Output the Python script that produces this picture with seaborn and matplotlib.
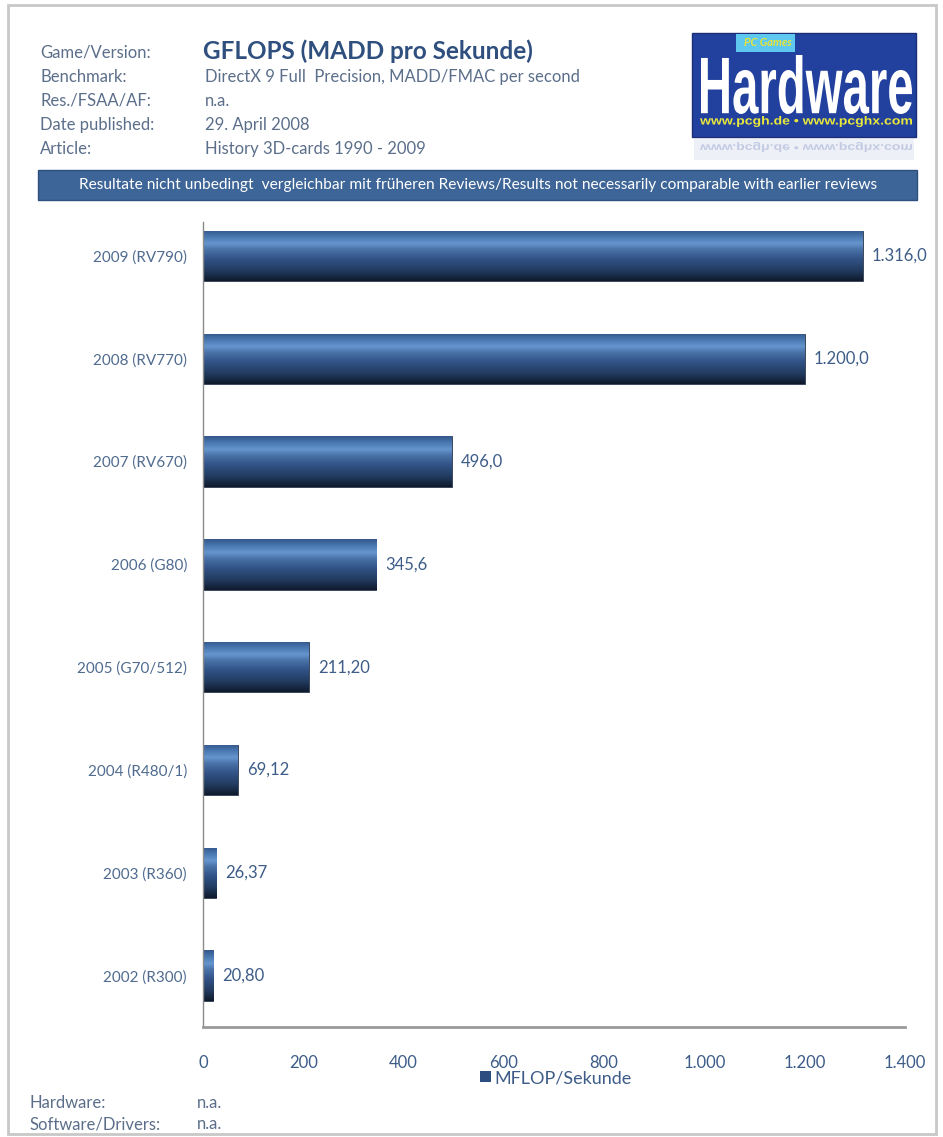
import numpy as np
import pandas as pd
import seaborn as sns
import matplotlib.pyplot as plt
from matplotlib.patches import Rectangle, Patch, PathPatch
from matplotlib.colors import LinearSegmentedColormap
from matplotlib.textpath import TextPath
from matplotlib.font_manager import FontProperties
from matplotlib.transforms import Affine2D

cards = ['2009 (RV790)', '2008 (RV770)', '2007 (RV670)', '2006 (G80)',
         '2005 (G70/512)', '2004 (R480/1)', '2003 (R360)', '2002 (R300)']
gflops = [1316.0, 1200.0, 496.0, 345.6, 211.20, 69.12, 26.37, 20.80]
value_labels = ['1.316,0', '1.200,0', '496,0', '345,6', '211,20', '69,12', '26,37', '20,80']
xticks = [0, 200, 400, 600, 800, 1000, 1200, 1400]
xtick_labels = ['0', '200', '400', '600', '800', '1.000', '1.200', '1.400']

info_keys = ['Game/Version:', 'Benchmark:', 'Res./FSAA/AF:', 'Date published:', 'Article:']
info_vals = ['GFLOPS (MADD pro Sekunde)', 'DirectX 9 Full  Precision, MADD/FMAC per second',
             'n.a.', '29. April 2008', 'History 3D-cards 1990 - 2009']
footer_keys = ['Hardware:', 'Software/Drivers:']
footer_vals = ['n.a.', 'n.a.']

df = pd.DataFrame({'card': cards, 'value': gflops})

sns.set_style('white')
plt.rcParams['font.family'] = ['Lato', 'DejaVu Sans']

W, H = 943, 1137
fig = plt.figure(figsize=(W / 100, H / 100), dpi=100)
TXT = '#5b6e8a'
BLUE_TXT = '#3d5c88'


def px(x, y):
    return x / W, 1 - y / H


def fit_text(s, x0, y0, x1, y1, color, weight='bold', flip=False, alpha=1.0):
    # draw text s squeezed into the pixel box (x0, y0)-(x1, y1), y measured from top
    tp = TextPath((0, 0), s, size=50, prop=FontProperties(family='Liberation Sans', weight=weight))
    bb = tp.get_extents()
    sy = (y1 - y0) / bb.height
    tr = Affine2D().translate(-bb.x0, -bb.y0).scale((x1 - x0) / bb.width, -sy if flip else sy)
    tr = tr.translate(x0, H - (y0 if flip else y1)).scale(1 / W, 1 / H) + fig.transFigure
    fig.add_artist(PathPatch(tp, transform=tr, facecolor=color, edgecolor='none', alpha=alpha))


# outer frame
fig.add_artist(Rectangle(px(8, 1134), (936 - 8) / W, (1134 - 5) / H, transform=fig.transFigure,
                         fill=False, edgecolor='#c8c8c8', lw=2))

ax = fig.add_axes([203 / W, 1 - 1027 / H, (905 - 203) / W, (1027 - 222) / H])
sns.barplot(data=df, x='value', y='card', orient='h', width=0.49, color='#34588a', ax=ax)

grad_cmap = LinearSegmentedColormap.from_list('bar', [
    (0.0, '#34578a'), (0.12, '#4775ad'), (0.26, '#6696cf'), (0.38, '#4a73a8'),
    (0.55, '#33558a'), (0.8, '#213a5e'), (1.0, '#0f1a2b')])
grad = np.linspace(0, 1, 256).reshape(-1, 1)
for p in ax.patches:
    x0, y0 = p.get_x(), p.get_y()
    x1, y1 = x0 + p.get_width(), y0 + p.get_height()
    im = ax.imshow(grad, cmap=grad_cmap, aspect='auto', interpolation='bilinear',
                   extent=(x0, x1, y1, y0), origin='upper', zorder=2)
    im.set_clip_path(p)
    p.set_facecolor('none')
    p.set_edgecolor('#1a2840')
    p.set_linewidth(0.6)

for i, (v, lab) in enumerate(zip(gflops, value_labels)):
    ax.text(v + 18, i, lab, va='center', ha='left', fontsize=12, color=BLUE_TXT)

ax.set_xlim(0, 1400)
ax.set_ylim(7.5, -0.33)
ax.set_xticks(xticks)
ax.set_xticklabels(xtick_labels)
ax.tick_params(axis='x', length=0, pad=20, labelsize=12, labelcolor=BLUE_TXT)
ax.tick_params(axis='y', length=0, pad=11.5, labelsize=11, labelcolor='#4f6b8f')
ax.set_xlabel('')
ax.set_ylabel('')
for s in ['top', 'right']:
    ax.spines[s].set_visible(False)
ax.spines['left'].set_color('#8a8a8a')
ax.spines['left'].set_linewidth(1)
ax.spines['bottom'].set_color('#9a9a9a')
ax.spines['bottom'].set_linewidth(2)

ax.legend(handles=[Patch(facecolor='#2c4d80', edgecolor='none', label='MFLOP/Sekunde')],
          loc='center', bbox_to_anchor=px(556, 1078), bbox_transform=fig.transFigure,
          frameon=False, fontsize=13, handlelength=0.6, handleheight=0.6,
          handletextpad=0.2, labelcolor=BLUE_TXT, borderpad=0)

# header
rows_y = [52, 77, 101, 125, 149]
for k, v, y in zip(info_keys, info_vals, rows_y):
    fig.text(*px(40, y), k, fontsize=12, color=TXT, va='center', ha='left')
    if k == 'Game/Version:':
        fig.text(*px(203, y - 1), v, fontsize=17.5, fontweight='bold', color='#2f4f7f',
                 va='center', ha='left')
    else:
        fig.text(*px(205, y), v, fontsize=12, color=TXT, va='center', ha='left')

# logo
fig.add_artist(Rectangle(px(692, 137), (916 - 692) / W, (137 - 33) / H,
                         transform=fig.transFigure, facecolor='#22409e', edgecolor='#1a2f78'))
fig.add_artist(Rectangle(px(694, 160), (914 - 694) / W, (160 - 139) / H,
                         transform=fig.transFigure, facecolor='#eef0f7', edgecolor='none'))
fig.add_artist(Rectangle(px(736, 52), (795 - 736) / W, (52 - 34) / H,
                         transform=fig.transFigure, facecolor='#5ec8ee', edgecolor='none'))
fig.text(*px(768, 43), 'PC Games', fontsize=8, fontstyle='italic', fontweight='bold',
         color='#e6e43a', ha='center', va='center')
fit_text('Hardware', 701, 55, 912, 114, 'white')
fit_text('www.pcgh.de • www.pcghx.com', 700, 116, 912, 127, '#e8e83c')
fit_text('www.pcgh.de • www.pcghx.com', 700, 142, 912, 152, '#b8c2de', flip=True, alpha=0.8)

# banner
fig.add_artist(Rectangle(px(38, 200), (917 - 38) / W, (200 - 170) / H,
                         transform=fig.transFigure, facecolor='#3e6597', edgecolor='#2e5080'))
fig.text(*px(478, 185), 'Resultate nicht unbedingt  vergleichbar mit früheren Reviews/Results not '
         'necessarily comparable with earlier reviews', fontsize=11.2, color='white',
         ha='center', va='center')

# footer
for k, v, y in zip(footer_keys, footer_vals, [1103, 1124]):
    fig.text(*px(30, y), k, fontsize=12, color=TXT, va='center', ha='left')
    fig.text(*px(197, y), v, fontsize=12, color=TXT, va='center', ha='left')

fig.savefig('out.png', dpi=100)
